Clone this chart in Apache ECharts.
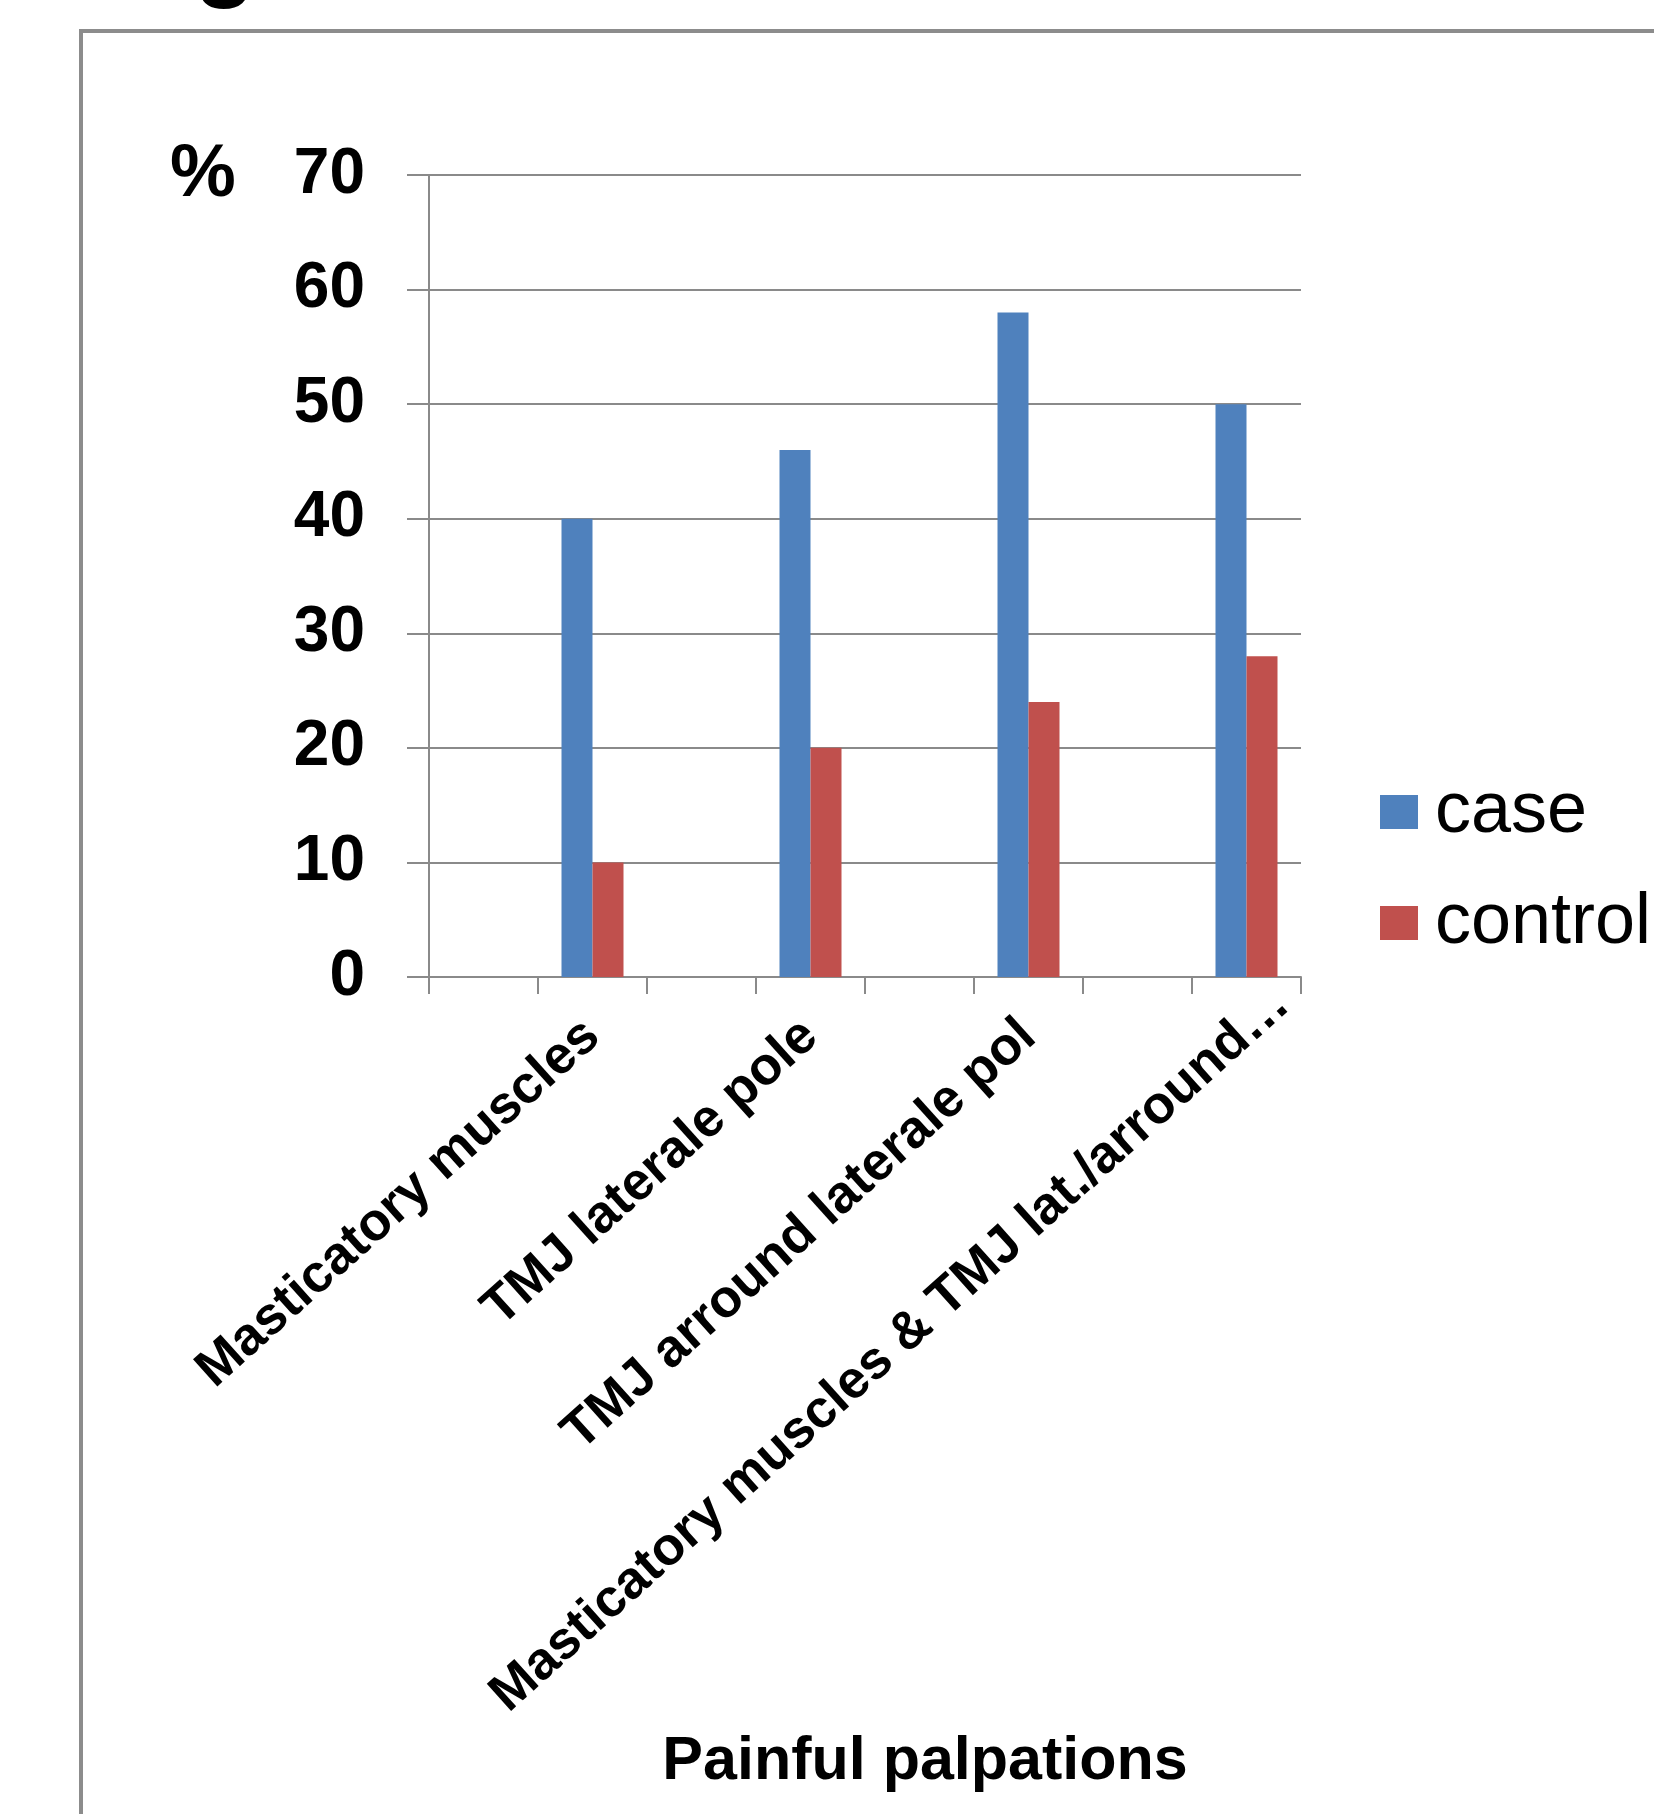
<!DOCTYPE html>
<html>
<head>
<meta charset="utf-8">
<title>Painful palpations</title>
<script src="https://cdn.jsdelivr.net/npm/echarts@6/dist/echarts.min.js"></script>
<style>
  html, body { margin: 0; padding: 0; background: #ffffff; }
  #chart { width: 1654px; height: 1814px; }
</style>
</head>
<body>
<div id="chart"></div>
<script>
// Palpation sites (blank slots separate the groups on the axis)
const categories = [
  '', 'Masticatory muscles',
  '', 'TMJ laterale pole',
  '', 'TMJ arround laterale pol',
  '', 'Masticatory muscles & TMJ lat./arround\u2026'
];
// Percentage of subjects with pain on palpation
const caseValues    = [null, 40, null, 46, null, 58, null, 50];
const controlValues = [null, 10, null, 20, null, 24, null, 28];
// Value axis ticks
const yTicks = [0, 10, 20, 30, 40, 50, 60, 70];

const FONT = '"Liberation Sans", Arial, Helvetica, sans-serif';
const GRAY = '#8a8a8a';

// the truncated last label sits a little further along its slant
const categoryItems = categories.map((name, i) =>
  i === categories.length - 1
    ? { value: name, textStyle: { padding: [0, -48, 0, 0] } }
    : name
);

const chart = echarts.init(document.getElementById('chart'), null, { renderer: 'canvas' });

chart.setOption({
  backgroundColor: '#ffffff',
  animation: false,
  grid: { left: 429, right: 353, top: 175, bottom: 837, containLabel: false },
  legend: {
    orient: 'vertical',
    left: 1380,
    top: 776,
    padding: 0,
    itemWidth: 38,
    itemHeight: 34,
    itemGap: 39,
    icon: 'rect',
    textStyle: {
      fontFamily: FONT,
      fontSize: 72,
      lineHeight: 68,
      color: '#000',
      padding: [0, 0, 0, 12]
    },
    data: ['case', 'control']
  },
  xAxis: {
    type: 'category',
    data: categoryItems,
    boundaryGap: true,
    axisLine: { show: true, lineStyle: { color: GRAY, width: 2 } },
    axisTick: { show: true, interval: 0, length: 17, alignWithLabel: false, lineStyle: { color: GRAY, width: 2 } },
    axisLabel: {
      interval: 0,
      rotate: 42,
      margin: 52,
      fontFamily: FONT,
      fontWeight: 'bold',
      fontSize: 53,
      color: '#000'
    },
    splitLine: { show: false }
  },
  yAxis: {
    type: 'value',
    min: yTicks[0],
    max: yTicks[yTicks.length - 1],
    interval: 10,
    axisLine: { show: true, lineStyle: { color: GRAY, width: 2 } },
    axisTick: { show: true, length: 22, lineStyle: { color: GRAY, width: 2 } },
    axisLabel: {
      margin: 64,
      fontFamily: FONT,
      fontWeight: 'bold',
      fontSize: 64,
      color: '#000'
    },
    splitLine: { show: true, lineStyle: { color: GRAY, width: 2 } }
  },
  series: [
    {
      name: 'case',
      type: 'bar',
      data: caseValues,
      barWidth: 31,
      barGap: '0%',
      itemStyle: { color: '#4F81BD' }
    },
    {
      name: 'control',
      type: 'bar',
      data: controlValues,
      barWidth: 31,
      barGap: '0%',
      itemStyle: { color: '#C0504D' }
    }
  ],
  graphic: [
    // outer chart frame
    {
      type: 'rect',
      shape: { x: 81, y: 31, width: 2000, height: 2000 },
      style: { fill: 'none', stroke: '#8c8c8c', lineWidth: 4 },
      z: -10
    },
    // descender of the panel letter above the frame
    {
      type: 'text',
      x: 225,
      y: 10,
      style: {
        text: 'g',
        fontFamily: FONT,
        fontWeight: 'bold',
        fontSize: 100,
        fill: '#000',
        align: 'center',
        verticalAlign: 'bottom'
      }
    },
    // unit label
    {
      type: 'text',
      x: 203,
      y: 176,
      style: {
        text: '%',
        fontFamily: FONT,
        fontWeight: 'bold',
        fontSize: 74,
        fill: '#000',
        align: 'center',
        verticalAlign: 'middle'
      }
    },
    // category axis title
    {
      type: 'text',
      x: 925,
      y: 1762,
      style: {
        text: 'Painful palpations',
        fontFamily: FONT,
        fontWeight: 'bold',
        fontSize: 61,
        fill: '#000',
        align: 'center',
        verticalAlign: 'middle'
      }
    }
  ]
});
</script>
</body>
</html>
